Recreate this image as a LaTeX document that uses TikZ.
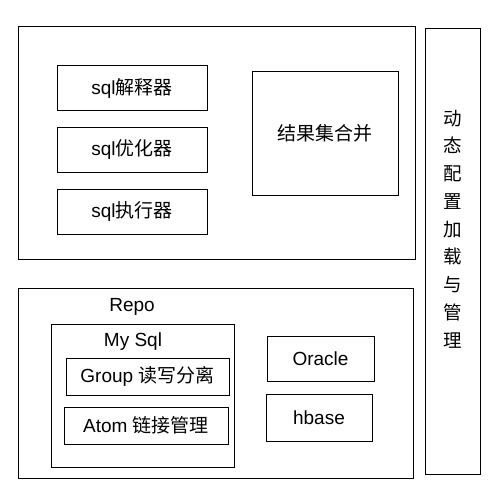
\documentclass[tikz,border=0pt]{standalone}
\usepackage{fontspec}
\setmainfont{Liberation Sans}
\newfontfamily\cjk{Noto Sans CJK SC}
\newcommand{\zh}[1]{{\cjk #1}}
\usetikzlibrary{positioning}

\tikzset{
	box/.style={draw, line width=0.9pt, inner sep=0pt},
	txt/.style={inner sep=0pt},
}

\begin{document}
\begin{tikzpicture}[x=1pt, y=-1pt, node distance=16pt and 0pt, font=\fontsize{19}{23}\selectfont]
	\useasboundingbox (0,0) rectangle (495,504);
	% sql engine
	\node[box, minimum width=397pt, minimum height=233pt] (core) at (216.5,142.5) {};
	\node[box, minimum width=150pt, minimum height=45pt] (parser) at (132,88) {sql\zh{解释器}};
	\node[box, minimum width=150pt, minimum height=45pt, below =of parser] (optimizer) {sql\zh{优化器}};
	\node[box, minimum width=150pt, minimum height=45pt, below =of optimizer] (executor) {sql\zh{执行器}};
	\node[box, minimum width=146pt, minimum height=124pt] (merge) at (325,133) {\zh{结果集合并}};
	% config
	\node[box, minimum width=55pt, minimum height=446pt] (config) at (452.5,251) {};
	\node[txt, align=center, font=\cjk\fontsize{18.5}{27.75}\selectfont] (configtext) at (453,229)
		{动\\态\\配\\置\\加\\载\\与\\管\\理};
	% repo
	\node[box, minimum width=395pt, minimum height=190pt] (repo) at (215.5,383) {};
	\node[txt] (repotext) at (132,307) {Repo};
	\node[box, minimum width=183pt, minimum height=143pt] (mysql) at (142.5,395.5) {};
	\node[txt] (mysqltext) at (133,342) {My Sql};
	\node[box, minimum width=163pt, minimum height=37pt] (group) at (147.5,376.5) {Group \zh{读写分离}};
	\node[box, minimum width=164pt, minimum height=37pt] (atom) at (146,425.5) {Atom \zh{链接管理}};
	\node[box, minimum width=107pt, minimum height=45pt] (oracle) at (320.5,358.5) {Oracle};
	\node[box, minimum width=106pt, minimum height=47pt] (hbase) at (319,417.5) {hbase};
\end{tikzpicture}
\end{document}
